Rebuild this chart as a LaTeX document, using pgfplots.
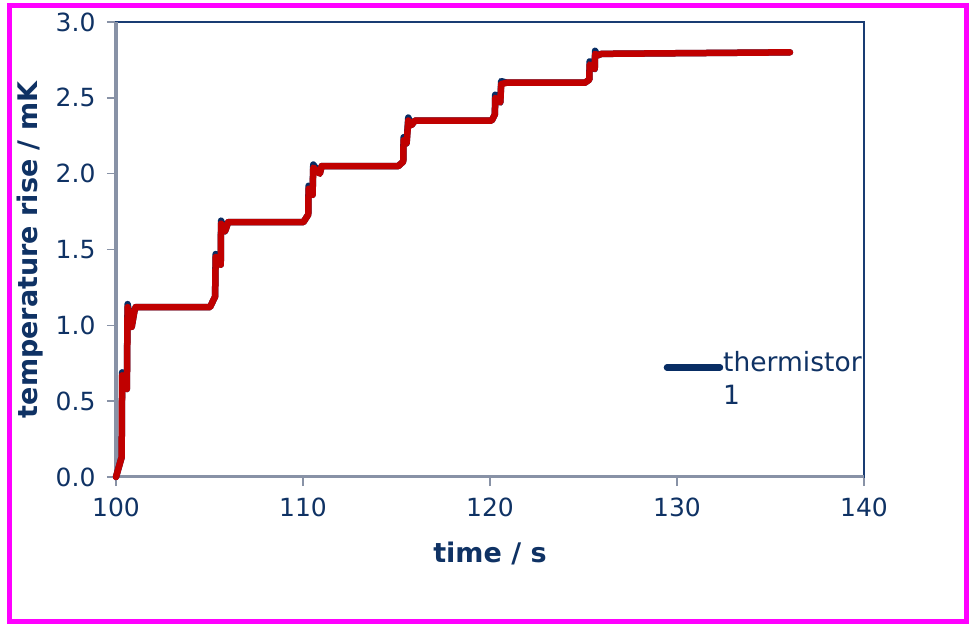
\documentclass[border=0pt]{standalone}
\usepackage{pgfplots}
\pgfplotsset{compat=1.18}
\usepackage{fontspec}
\setmainfont{DejaVu Sans}
\definecolor{txtblue}{RGB}{15,50,100}
\definecolor{serblue}{RGB}{8,45,100}
\definecolor{serred}{RGB}{192,0,0}
\definecolor{axgray}{RGB}{136,146,166}
\definecolor{frameblue}{RGB}{25,60,115}
\definecolor{mag}{RGB}{255,0,255}

\pgfplotstableread{
t T
100.00 0.00
100.30 0.13
100.33 0.69
100.58 0.58
100.62 1.14
100.84 0.99
100.98 1.09
101.05 1.12
105.03 1.12
105.30 1.19
105.33 1.47
105.60 1.40
105.62 1.69
105.83 1.62
106.00 1.68
110.02 1.68
110.28 1.73
110.30 1.92
110.51 1.86
110.55 2.06
110.90 2.00
111.00 2.05
115.10 2.05
115.36 2.08
115.38 2.24
115.54 2.20
115.63 2.37
115.80 2.32
115.99 2.35
120.09 2.35
120.26 2.39
120.28 2.52
120.55 2.47
120.60 2.61
120.90 2.60
125.08 2.60
125.31 2.62
125.33 2.74
125.60 2.69
125.62 2.81
125.75 2.78
125.97 2.79
136.04 2.80
}\blueseries

\pgfplotstableread{
t T
100.00 0.00
100.30 0.13
100.33 0.67
100.58 0.58
100.62 1.12
100.84 0.99
100.98 1.09
101.05 1.12
105.03 1.12
105.30 1.19
105.33 1.45
105.60 1.40
105.62 1.67
105.83 1.62
106.00 1.68
110.02 1.68
110.28 1.73
110.30 1.90
110.51 1.86
110.55 2.04
110.90 2.00
111.00 2.05
115.10 2.05
115.36 2.08
115.38 2.22
115.54 2.20
115.63 2.35
115.80 2.32
115.99 2.35
120.09 2.35
120.26 2.39
120.28 2.50
120.55 2.47
120.60 2.59
120.90 2.60
125.08 2.60
125.31 2.62
125.33 2.72
125.60 2.69
125.62 2.79
125.75 2.78
125.97 2.79
136.04 2.80
}\redseries

\begin{document}
\begin{tikzpicture}
\path[use as bounding box] (0bp,0bp) rectangle (970bp,625bp);
\draw[mag, line width=5bp] (9bp,3.5bp) rectangle (966bp,619bp);
\begin{axis}[
  at={(116bp,148bp)}, anchor=south west,
  scale only axis, width=748bp, height=455bp,
  xmin=100, xmax=140, ymin=0, ymax=3,
  xtick={100,110,120,130,140},
  ytick={0,0.5,1,1.5,2,2.5,3},
  clip=false,
  axis line style={frameblue, line width=2bp},
  tick align=outside, tick pos=left,
  major tick length=9bp,
  tick style={axgray, line width=1.5bp},
  /pgf/number format/assume math mode=true,
  ticklabel style={font=\fontsize{25bp}{30bp}\selectfont, text=txtblue},
  yticklabel style={/pgf/number format/fixed, /pgf/number format/fixed zerofill, /pgf/number format/precision=1, xshift=-8bp},
  xticklabel style={/pgf/number format/fixed, /pgf/number format/precision=0, yshift=-8bp},
  xlabel={time / s},
  ylabel={temperature rise / mK},
  label style={font=\fontsize{27bp}{32bp}\selectfont\bfseries, text=txtblue},
  xlabel style={at={(axis description cs:0.5,-0.187)}, anchor=base},
  ylabel style={at={(axis description cs:-0.115,0.499)}, anchor=center},
  legend style={draw=none, fill=none, at={(axis description cs:0.732,0.283)}, anchor=north west,
    font=\fontsize{26.5bp}{33bp}\selectfont, text=txtblue, inner sep=0pt,
    nodes={inner sep=0pt},
    cells={anchor=base west}, /tikz/column sep=0bp},
  legend image code/.code={\path (0bp,0bp); \draw[#1, line cap=round] (0bp,0.42em) -- (53bp,0.42em);},
]
\draw[axgray, line width=3bp] (rel axis cs:0,1) -- (rel axis cs:0,0) -- (rel axis cs:1,0);
\addplot[serblue, line width=6.5bp, line join=round, line cap=round] table[x=t,y=T] {\blueseries};
\addlegendentry{\begin{tabular}[t]{@{}l@{}}thermistor\\1\end{tabular}}
\addplot[serred, line width=6.5bp, line join=round, line cap=round, forget plot] table[x=t,y=T] {\redseries};
\end{axis}
\end{tikzpicture}
\end{document}
